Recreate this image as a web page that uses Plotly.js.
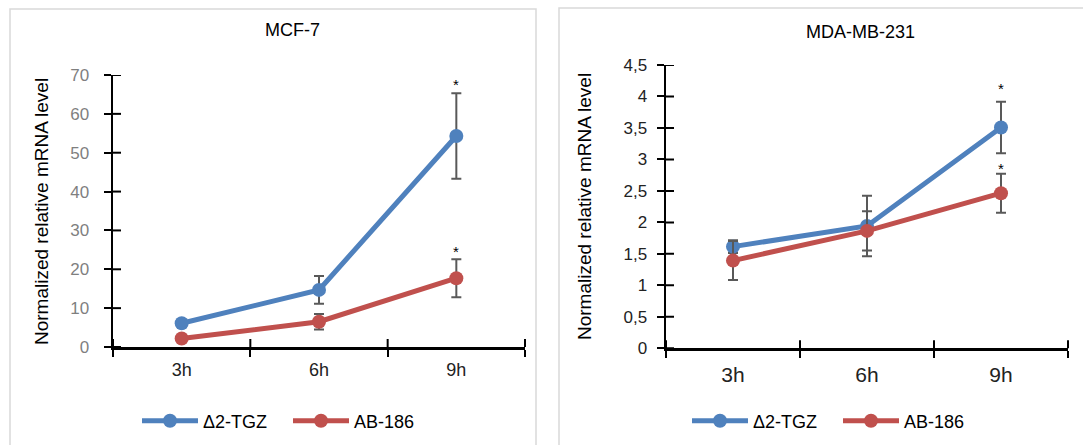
<!DOCTYPE html>
<html>
<head>
<meta charset="utf-8">
<script src="https://cdn.plot.ly/plotly-3.0.1.min.js"></script>
<style>
html,body{margin:0;padding:0;background:#fff;}
#chart{width:1083px;height:445px;}
</style>
</head>
<body>
<div id="chart"></div>
<script>
// ---- data ----
var timepoints = ['3h', '6h', '9h'];
var seriesNames = ['\u03942-TGZ', 'AB-186'];

var mcfTitle = 'MCF-7';
var mcfTGZ = [6.1, 14.7, 54.3];
var mcfTGZerr = [0.9, 3.6, 11.0];
var mcfAB = [2.2, 6.5, 17.7];
var mcfABerr = [0.5, 2.0, 4.9];
var mcfStars = ['', '', '*'];   // significance marks, TGZ
var mcfStarsAB = ['', '', '*']; // significance marks, AB-186

var mdaTitle = 'MDA-MB-231';
var mdaTGZ = [1.615, 1.944, 3.507];
var mdaTGZerr = [0.10, 0.48, 0.41];
var mdaAB = [1.393, 1.865, 2.464];
var mdaABerr = [0.31, 0.31, 0.31];
var mdaStars = ['', '', '*'];
var mdaStarsAB = ['', '', '*'];

var yTitle = 'Normalized relative mRNA level';
var mcfTicks = [0, 10, 20, 30, 40, 50, 60, 70];
var mdaTicks = [0, 0.5, 1, 1.5, 2, 2.5, 3, 3.5, 4, 4.5];
var mdaTickText = ['0', '0,5', '1', '1,5', '2', '2,5', '3', '3,5', '4', '4,5'];

// ---- style ----
var BLUE = '#4f81bd', RED = '#c0504d', ERR = '#595959';
var W = 1083, H = 445;
var FONT = 'Liberation Sans, Arial, sans-serif';

function trace(y, err, color, name, xa, ya, lg, show) {
  return {
    type: 'scatter', mode: 'lines+markers', x: timepoints, y: y, name: name,
    xaxis: xa, yaxis: ya, legend: lg, showlegend: show,
    line: {color: color, width: 5},
    marker: {color: color, size: 14},
    error_y: {type: 'data', array: err, visible: true, color: ERR, thickness: 2, width: 5}
  };
}

var data = [
  trace(mcfTGZ, mcfTGZerr, BLUE, seriesNames[0], 'x', 'y', 'legend', true),
  trace(mcfAB, mcfABerr, RED, seriesNames[1], 'x', 'y', 'legend', true),
  trace(mdaTGZ, mdaTGZerr, BLUE, seriesNames[0], 'x2', 'y2', 'legend2', true),
  trace(mdaAB, mdaABerr, RED, seriesNames[1], 'x2', 'y2', 'legend2', true)
];

var annotations = [];
function addStars(stars, vals, errs, xa, ya, shift) {
  for (var i = 0; i < stars.length; i++) {
    if (!stars[i]) continue;
    annotations.push({xref: xa, yref: ya, x: timepoints[i], y: vals[i] + errs[i],
      text: stars[i], showarrow: false, yanchor: 'bottom', yshift: shift,
      font: {family: FONT, size: 15, color: '#000'}});
  }
}
addStars(mcfStars, mcfTGZ, mcfTGZerr, 'x', 'y', -2);
addStars(mcfStarsAB, mcfAB, mcfABerr, 'x', 'y', -3);
addStars(mdaStars, mdaTGZ, mdaTGZerr, 'x2', 'y2', 3);
addStars(mdaStarsAB, mdaAB, mdaABerr, 'x2', 'y2', -5);

annotations.push({xref: 'paper', yref: 'paper', x: 292 / W, y: 1 - 30 / H, text: mcfTitle,
  showarrow: false, xanchor: 'center', yanchor: 'middle', font: {family: FONT, size: 18, color: '#000'}});
annotations.push({xref: 'paper', yref: 'paper', x: 860 / W, y: 1 - 32 / H, text: mdaTitle,
  showarrow: false, xanchor: 'center', yanchor: 'middle', font: {family: FONT, size: 18, color: '#000'}});
annotations.push({xref: 'paper', yref: 'paper', x: 41 / W, y: 1 - 212 / H, text: yTitle, textangle: -90,
  showarrow: false, xanchor: 'center', yanchor: 'middle', font: {family: FONT, size: 19, color: '#000'}});
annotations.push({xref: 'paper', yref: 'paper', x: 584 / W, y: 1 - 207 / H, text: yTitle, textangle: -90,
  showarrow: false, xanchor: 'center', yanchor: 'middle', font: {family: FONT, size: 19, color: '#000'}});

var xd1 = [113 / W, 525 / W], xd2 = [666 / W, 1068 / W];
var yd1 = [(H - 347) / H, (H - 75) / H], yd2 = [(H - 348.3) / H, (H - 65) / H];

function xMain(domain, anchor, size, standoff) {
  return {domain: domain, anchor: anchor, type: 'category', range: [-0.5, 2.5],
    tickson: 'boundaries', ticks: 'outside', ticklen: 7, tickwidth: 2, tickcolor: '#000',
    showline: true, linecolor: '#000', linewidth: 2.5, showgrid: false, zeroline: false,
    ticklabelstandoff: standoff, tickfont: {family: FONT, size: size, color: '#222'}, fixedrange: true};
}
function yMain(domain, anchor, range, tv, tt, size, color, standoff) {
  return {domain: domain, anchor: anchor, range: range, tickmode: 'array', tickvals: tv, ticktext: tt,
    ticks: 'outside', ticklen: 7, tickwidth: 2, tickcolor: '#000',
    showline: true, linecolor: '#000', linewidth: 2.5, showgrid: false, zeroline: false,
    ticklabelstandoff: standoff, tickfont: {family: FONT, size: size, color: color}, fixedrange: true};
}

var shapes = [
  {type: 'rect', xref: 'paper', yref: 'paper', x0: 10 / W, x1: 536 / W, y0: -0.1, y1: 1 - 9 / H,
    line: {color: '#d9d9d9', width: 1.5}, fillcolor: 'rgba(0,0,0,0)', layer: 'below'},
  {type: 'rect', xref: 'paper', yref: 'paper', x0: 559 / W, x1: 1.1, y0: -0.1, y1: 1 - 8 / H,
    line: {color: '#d9d9d9', width: 1.5}, fillcolor: 'rgba(0,0,0,0)', layer: 'below'}
];
// inner half of the crossing tick marks (Excel "cross" ticks), derived from the tick arrays
var TICK = 8;
function innerYTicks(vals, ya, xdom) {
  vals.forEach(function (v) {
    shapes.push({type: 'line', xref: 'paper', yref: ya,
      x0: xdom[0], x1: xdom[0] + TICK / W, y0: v, y1: v, line: {color: '#000', width: 2}, layer: 'above'});
  });
}
function innerXTicks(n, xdom, ydom) {
  for (var i = 0; i <= n; i++) {
    var xp = xdom[0] + (xdom[1] - xdom[0]) * i / n;
    shapes.push({type: 'line', xref: 'paper', yref: 'paper',
      x0: xp, x1: xp, y0: ydom[0], y1: ydom[0] + TICK / H, line: {color: '#000', width: 2}, layer: 'above'});
  }
}
innerYTicks(mcfTicks, 'y', xd1);
innerYTicks(mdaTicks, 'y2', xd2);
innerXTicks(timepoints.length, xd1, yd1);
innerXTicks(timepoints.length, xd2, yd2);

var layout = {
  width: W, height: H,
  margin: {l: 0, r: 0, t: 0, b: 0},
  paper_bgcolor: '#fff', plot_bgcolor: 'rgba(0,0,0,0)',
  font: {family: FONT},
  xaxis: xMain(xd1, 'y', 18, 5),
  yaxis: yMain(yd1, 'x', [0, 70], mcfTicks, mcfTicks.map(String), 17, '#7f7f7f', 11),
  xaxis2: xMain(xd2, 'y2', 21, 6),
  yaxis2: yMain(yd2, 'x2', [0, 4.5], mdaTicks, mdaTickText, 17, '#222', 6),
  legend: {orientation: 'h', x: 137 / W, xanchor: 'left', y: 1 - 421 / H, yanchor: 'middle',
    font: {family: FONT, size: 18, color: '#000'}, bgcolor: 'rgba(0,0,0,0)', itemwidth: 56,
    entrywidth: 80},
  legend2: {orientation: 'h', x: 687 / W, xanchor: 'left', y: 1 - 421 / H, yanchor: 'middle',
    font: {family: FONT, size: 18, color: '#000'}, bgcolor: 'rgba(0,0,0,0)', itemwidth: 56,
    entrywidth: 80},
  annotations: annotations,
  shapes: shapes
};

Plotly.newPlot('chart', data, layout, {displayModeBar: false, staticPlot: true});
</script>
</body>
</html>
